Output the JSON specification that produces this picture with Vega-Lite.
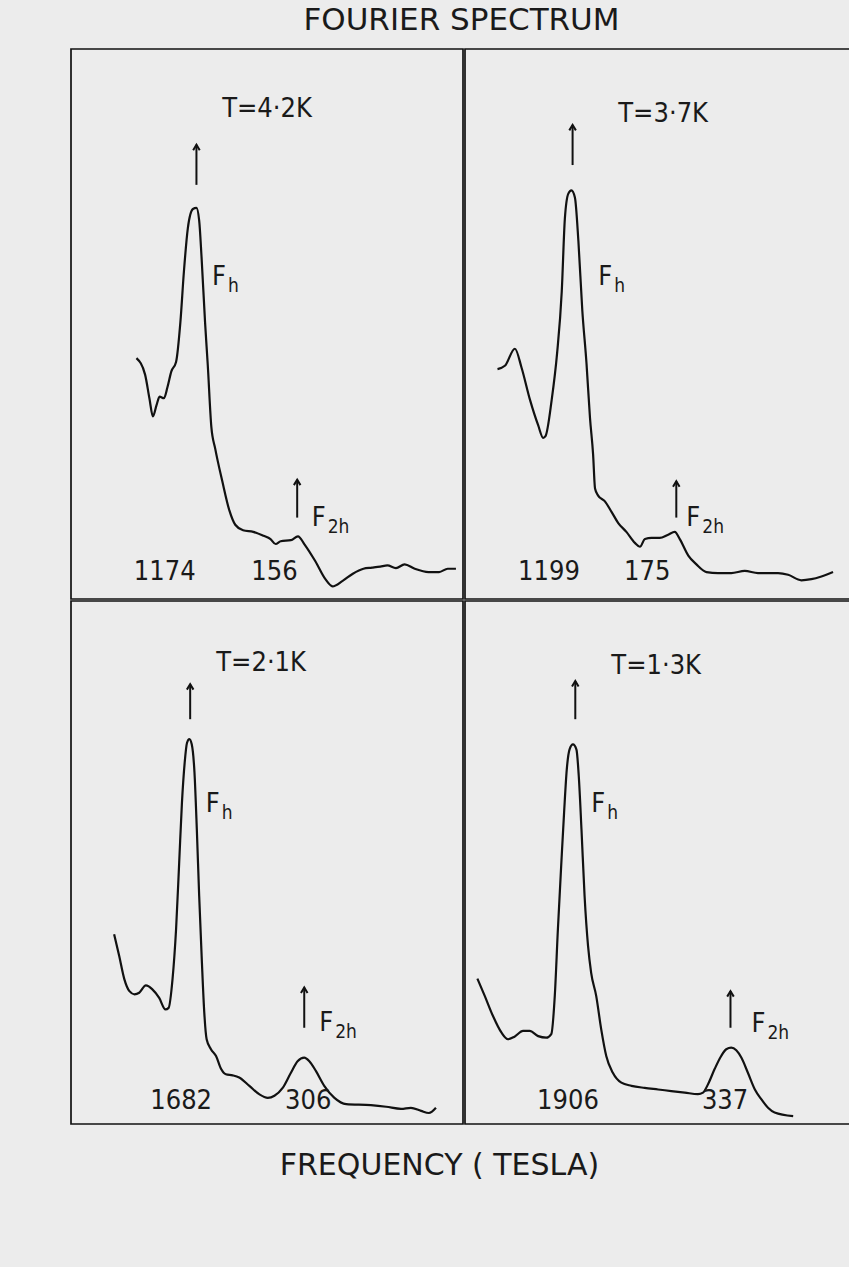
{
  "$schema": "https://vega.github.io/schema/vega-lite/v6.json",
  "background": "#ececec",
  "padding": {"top": 5, "left": 70, "right": 0, "bottom": 92},
  "title": {"text": "FOURIER SPECTRUM", "fontSize": 31, "font": "DejaVu Sans", "fontWeight": "normal", "color": "#1a1a1a", "anchor": "middle", "offset": 11},
  "config": {
    "view": {"stroke": "#111111", "strokeWidth": 1.7},
    "text": {"font": "DejaVu Sans Condensed, DejaVu Sans", "color": "#1a1a1a"}
  },
  "datasets": {
    "curves": [
      {"p":"A","x":16.7,"y":43.8},{"p":"A","x":18.9,"y":40.8},{"p":"A","x":20.0,"y":36.5},{"p":"A","x":20.9,"y":33.2},{"p":"A","x":21.8,"y":35.2},{"p":"A","x":22.6,"y":36.8},{"p":"A","x":23.7,"y":36.5},{"p":"A","x":24.6,"y":38.5},{"p":"A","x":25.6,"y":41.4},{"p":"A","x":26.8,"y":43.1},{"p":"A","x":27.9,"y":50.3},{"p":"A","x":28.8,"y":59.5},{"p":"A","x":29.8,"y":67.4},{"p":"A","x":31.1,"y":70.9},{"p":"A","x":32.0,"y":71.1},{"p":"A","x":32.7,"y":68.8},{"p":"A","x":33.3,"y":62.2},{"p":"A","x":34.2,"y":50.3},{"p":"A","x":34.9,"y":42.4},{"p":"A","x":35.8,"y":31.3},{"p":"A","x":36.8,"y":27.3},{"p":"A","x":38.6,"y":21.4},{"p":"A","x":40.4,"y":16.1},{"p":"A","x":41.9,"y":13.5},{"p":"A","x":43.9,"y":12.5},{"p":"A","x":46.5,"y":12.2},{"p":"A","x":49.1,"y":11.5},{"p":"A","x":50.9,"y":10.9},{"p":"A","x":52.2,"y":10.0},{"p":"A","x":53.5,"y":10.5},{"p":"A","x":56.1,"y":10.7},{"p":"A","x":57.9,"y":11.4},{"p":"A","x":59.6,"y":9.9},{"p":"A","x":62.3,"y":6.9},{"p":"A","x":64.9,"y":3.6},{"p":"A","x":66.7,"y":2.3},{"p":"A","x":69.3,"y":3.3},{"p":"A","x":71.9,"y":4.6},{"p":"A","x":74.6,"y":5.5},{"p":"A","x":76.8,"y":5.7},{"p":"A","x":78.9,"y":5.9},{"p":"A","x":80.7,"y":6.1},{"p":"A","x":82.9,"y":5.6},{"p":"A","x":85.1,"y":6.3},{"p":"A","x":87.7,"y":5.5},{"p":"A","x":91.2,"y":4.9},{"p":"A","x":93.9,"y":4.9},{"p":"A","x":96.1,"y":5.5},{"p":"A","x":98.2,"y":5.5},
      {"p":"B","x":8.4,"y":41.8},{"p":"B","x":10.3,"y":42.4},{"p":"B","x":12.9,"y":45.5},{"p":"B","x":14.6,"y":42.1},{"p":"B","x":16.8,"y":36.2},{"p":"B","x":18.9,"y":31.6},{"p":"B","x":20.2,"y":29.3},{"p":"B","x":20.8,"y":29.6},{"p":"B","x":22.4,"y":36.2},{"p":"B","x":23.8,"y":44.7},{"p":"B","x":25.0,"y":55.9},{"p":"B","x":25.8,"y":69.1},{"p":"B","x":26.7,"y":73.7},{"p":"B","x":27.5,"y":74.3},{"p":"B","x":28.4,"y":73.0},{"p":"B","x":29.3,"y":65.1},{"p":"B","x":30.3,"y":52.6},{"p":"B","x":31.4,"y":42.8},{"p":"B","x":32.3,"y":32.9},{"p":"B","x":33.1,"y":26.3},{"p":"B","x":33.6,"y":20.1},{"p":"B","x":34.4,"y":18.8},{"p":"B","x":36.1,"y":17.8},{"p":"B","x":37.9,"y":15.8},{"p":"B","x":39.6,"y":13.8},{"p":"B","x":41.7,"y":12.2},{"p":"B","x":43.9,"y":10.2},{"p":"B","x":45.2,"y":9.5},{"p":"B","x":46.5,"y":10.9},{"p":"B","x":48.2,"y":11.1},{"p":"B","x":50.3,"y":11.1},{"p":"B","x":52.5,"y":11.7},{"p":"B","x":54.2,"y":12.2},{"p":"B","x":55.5,"y":10.9},{"p":"B","x":57.7,"y":7.9},{"p":"B","x":59.8,"y":6.3},{"p":"B","x":62.4,"y":4.9},{"p":"B","x":65.4,"y":4.7},{"p":"B","x":68.8,"y":4.7},{"p":"B","x":72.3,"y":5.1},{"p":"B","x":75.7,"y":4.7},{"p":"B","x":80.9,"y":4.7},{"p":"B","x":83.5,"y":4.4},{"p":"B","x":86.9,"y":3.4},{"p":"B","x":89.5,"y":3.6},{"p":"B","x":92.1,"y":4.1},{"p":"B","x":95.1,"y":4.9},
      {"p":"C","x":11.0,"y":36.3},{"p":"C","x":12.3,"y":32.1},{"p":"C","x":13.6,"y":27.7},{"p":"C","x":14.9,"y":25.4},{"p":"C","x":16.2,"y":24.8},{"p":"C","x":17.4,"y":25.1},{"p":"C","x":19.1,"y":26.5},{"p":"C","x":20.7,"y":25.8},{"p":"C","x":22.5,"y":24.1},{"p":"C","x":24.1,"y":21.9},{"p":"C","x":24.9,"y":22.2},{"p":"C","x":25.9,"y":27.7},{"p":"C","x":26.8,"y":37.2},{"p":"C","x":27.6,"y":50.0},{"p":"C","x":28.3,"y":61.4},{"p":"C","x":29.0,"y":69.1},{"p":"C","x":29.6,"y":72.9},{"p":"C","x":30.2,"y":73.6},{"p":"C","x":30.8,"y":72.6},{"p":"C","x":31.5,"y":67.2},{"p":"C","x":32.1,"y":56.3},{"p":"C","x":32.7,"y":43.6},{"p":"C","x":33.4,"y":30.8},{"p":"C","x":34.0,"y":21.3},{"p":"C","x":34.6,"y":16.2},{"p":"C","x":35.7,"y":14.3},{"p":"C","x":37.0,"y":13.0},{"p":"C","x":38.3,"y":10.5},{"p":"C","x":39.5,"y":9.5},{"p":"C","x":41.2,"y":9.3},{"p":"C","x":42.9,"y":8.9},{"p":"C","x":45.5,"y":7.3},{"p":"C","x":48.0,"y":5.7},{"p":"C","x":50.2,"y":5.0},{"p":"C","x":51.9,"y":5.4},{"p":"C","x":54.0,"y":6.9},{"p":"C","x":56.1,"y":9.8},{"p":"C","x":57.8,"y":12.0},{"p":"C","x":59.5,"y":12.7},{"p":"C","x":60.8,"y":12.0},{"p":"C","x":62.5,"y":10.1},{"p":"C","x":64.6,"y":7.3},{"p":"C","x":67.2,"y":5.0},{"p":"C","x":70.2,"y":3.8},{"p":"C","x":76.5,"y":3.6},{"p":"C","x":80.4,"y":3.3},{"p":"C","x":84.2,"y":2.9},{"p":"C","x":86.7,"y":3.1},{"p":"C","x":89.3,"y":2.5},{"p":"C","x":91.3,"y":2.1},{"p":"C","x":93.1,"y":3.1},
      {"p":"D","x":3.2,"y":27.8},{"p":"D","x":5.1,"y":24.5},{"p":"D","x":7.2,"y":20.7},{"p":"D","x":9.4,"y":17.5},{"p":"D","x":11.1,"y":16.2},{"p":"D","x":12.8,"y":16.7},{"p":"D","x":15.0,"y":17.8},{"p":"D","x":16.7,"y":17.8},{"p":"D","x":18.9,"y":16.8},{"p":"D","x":21.0,"y":16.5},{"p":"D","x":22.3,"y":17.2},{"p":"D","x":23.2,"y":24.5},{"p":"D","x":24.0,"y":37.2},{"p":"D","x":24.9,"y":50.0},{"p":"D","x":25.6,"y":59.5},{"p":"D","x":26.3,"y":67.8},{"p":"D","x":27.0,"y":71.6},{"p":"D","x":27.9,"y":72.6},{"p":"D","x":28.8,"y":71.6},{"p":"D","x":29.4,"y":66.5},{"p":"D","x":30.1,"y":56.3},{"p":"D","x":30.9,"y":43.6},{"p":"D","x":31.8,"y":34.0},{"p":"D","x":32.6,"y":28.9},{"p":"D","x":33.9,"y":24.5},{"p":"D","x":35.2,"y":18.1},{"p":"D","x":36.5,"y":13.0},{"p":"D","x":38.2,"y":9.8},{"p":"D","x":40.4,"y":7.9},{"p":"D","x":43.0,"y":7.3},{"p":"D","x":46.4,"y":6.9},{"p":"D","x":49.9,"y":6.6},{"p":"D","x":53.3,"y":6.3},{"p":"D","x":56.8,"y":6.0},{"p":"D","x":60.2,"y":5.7},{"p":"D","x":61.5,"y":6.0},{"p":"D","x":62.8,"y":7.6},{"p":"D","x":64.5,"y":10.5},{"p":"D","x":66.2,"y":13.0},{"p":"D","x":67.5,"y":14.3},{"p":"D","x":68.8,"y":14.6},{"p":"D","x":70.1,"y":14.1},{"p":"D","x":71.4,"y":12.7},{"p":"D","x":73.1,"y":9.8},{"p":"D","x":74.9,"y":6.6},{"p":"D","x":76.6,"y":4.7},{"p":"D","x":78.3,"y":3.1},{"p":"D","x":80.0,"y":2.2},{"p":"D","x":84.8,"y":1.5}
    ],
    "arrows": [
      {"p":"A","x":32.0,"y":75.3,"y2":82.6},{"p":"A","x":57.7,"y":14.8,"y2":21.7},
      {"p":"B","x":27.8,"y":78.9,"y2":86.2},{"p":"B","x":54.6,"y":14.8,"y2":21.4},
      {"p":"C","x":30.4,"y":77.4,"y2":84.1},{"p":"C","x":59.5,"y":18.4,"y2":26.1},
      {"p":"D","x":28.5,"y":77.4,"y2":84.7},{"p":"D","x":68.6,"y":18.4,"y2":25.4}
    ],
    "texts": [
      {"p":"A","x":50.0,"y":89.1,"t":"T=4·2K"},{"p":"A","x":23.9,"y":4.9,"t":"1174"},{"p":"A","x":51.9,"y":4.9,"t":"156"},
      {"p":"B","x":51.2,"y":88.2,"t":"T=3·7K"},{"p":"B","x":21.7,"y":4.9,"t":"1199"},{"p":"B","x":47.1,"y":4.9,"t":"175"},
      {"p":"C","x":48.5,"y":88.2,"t":"T=2·1K"},{"p":"C","x":28.1,"y":4.4,"t":"1682"},{"p":"C","x":60.5,"y":4.4,"t":"306"},
      {"p":"D","x":49.4,"y":87.6,"t":"T=1·3K"},{"p":"D","x":26.6,"y":4.4,"t":"1906"},{"p":"D","x":67.2,"y":4.4,"t":"337"}
    ],
    "flabels": [
      {"p":"A","x":36.0,"y":58.6,"t":"F","s":"h"},{"p":"A","x":61.4,"y":14.7,"t":"F","s":"2h"},
      {"p":"B","x":34.4,"y":58.6,"t":"F","s":"h"},{"p":"B","x":57.2,"y":14.8,"t":"F","s":"2h"},
      {"p":"C","x":34.4,"y":61.2,"t":"F","s":"h"},{"p":"C","x":63.3,"y":19.4,"t":"F","s":"2h"},
      {"p":"D","x":32.6,"y":61.2,"t":"F","s":"h"},{"p":"D","x":74.0,"y":19.1,"t":"F","s":"2h"}
    ]
  },
  "spacing": 0,
  "vconcat": [
    {
      "spacing": 0,
      "hconcat": [
        {
          "width": 392, "height": 550,
          "layer": [
            {"data":{"name":"curves"},"transform":[{"filter":"datum.p==='A'"}],"mark":{"type":"line","interpolate":"monotone","color":"#111111","strokeWidth":2.2},"encoding":{"x":{"field":"x","type":"quantitative","scale":{"domain":[0,100]},"axis":null},"y":{"field":"y","type":"quantitative","scale":{"domain":[0,100]},"axis":null}}},
            {"data":{"name":"arrows"},"transform":[{"filter":"datum.p==='A'"}],"mark":{"type":"rule","color":"#111111","strokeWidth":2},"encoding":{"x":{"field":"x","type":"quantitative","scale":{"domain":[0,100]},"axis":null},"y":{"field":"y","type":"quantitative","scale":{"domain":[0,100]},"axis":null},"y2":{"field":"y2"}}},
            {"data":{"name":"arrows"},"transform":[{"filter":"datum.p==='A'"}],"mark":{"type":"point","shape":"M-0.6,1L0,0L0.6,1","size":120,"filled":false,"color":"#111111","strokeWidth":2,"opacity":1},"encoding":{"x":{"field":"x","type":"quantitative","scale":{"domain":[0,100]},"axis":null},"y":{"field":"y2","type":"quantitative","scale":{"domain":[0,100]},"axis":null}}},
            {"data":{"name":"texts"},"transform":[{"filter":"datum.p==='A'"}],"mark":{"type":"text","fontSize":27,"align":"center","baseline":"middle"},"encoding":{"x":{"field":"x","type":"quantitative","scale":{"domain":[0,100]},"axis":null},"y":{"field":"y","type":"quantitative","scale":{"domain":[0,100]},"axis":null},"text":{"field":"t"}}},
            {"data":{"name":"flabels"},"transform":[{"filter":"datum.p==='A'"}],"mark":{"type":"text","fontSize":27,"align":"left","baseline":"middle"},"encoding":{"x":{"field":"x","type":"quantitative","scale":{"domain":[0,100]},"axis":null},"y":{"field":"y","type":"quantitative","scale":{"domain":[0,100]},"axis":null},"text":{"field":"t"}}},
            {"data":{"name":"flabels"},"transform":[{"filter":"datum.p==='A'"}],"mark":{"type":"text","fontSize":19,"align":"left","baseline":"middle","dx":16,"dy":9},"encoding":{"x":{"field":"x","type":"quantitative","scale":{"domain":[0,100]},"axis":null},"y":{"field":"y","type":"quantitative","scale":{"domain":[0,100]},"axis":null},"text":{"field":"s"}}}
          ]
        },
        {
          "width": 387, "height": 550,
          "layer": [
            {"data":{"name":"curves"},"transform":[{"filter":"datum.p==='B'"}],"mark":{"type":"line","interpolate":"monotone","color":"#111111","strokeWidth":2.2},"encoding":{"x":{"field":"x","type":"quantitative","scale":{"domain":[0,100]},"axis":null},"y":{"field":"y","type":"quantitative","scale":{"domain":[0,100]},"axis":null}}},
            {"data":{"name":"arrows"},"transform":[{"filter":"datum.p==='B'"}],"mark":{"type":"rule","color":"#111111","strokeWidth":2},"encoding":{"x":{"field":"x","type":"quantitative","scale":{"domain":[0,100]},"axis":null},"y":{"field":"y","type":"quantitative","scale":{"domain":[0,100]},"axis":null},"y2":{"field":"y2"}}},
            {"data":{"name":"arrows"},"transform":[{"filter":"datum.p==='B'"}],"mark":{"type":"point","shape":"M-0.6,1L0,0L0.6,1","size":120,"filled":false,"color":"#111111","strokeWidth":2,"opacity":1},"encoding":{"x":{"field":"x","type":"quantitative","scale":{"domain":[0,100]},"axis":null},"y":{"field":"y2","type":"quantitative","scale":{"domain":[0,100]},"axis":null}}},
            {"data":{"name":"texts"},"transform":[{"filter":"datum.p==='B'"}],"mark":{"type":"text","fontSize":27,"align":"center","baseline":"middle"},"encoding":{"x":{"field":"x","type":"quantitative","scale":{"domain":[0,100]},"axis":null},"y":{"field":"y","type":"quantitative","scale":{"domain":[0,100]},"axis":null},"text":{"field":"t"}}},
            {"data":{"name":"flabels"},"transform":[{"filter":"datum.p==='B'"}],"mark":{"type":"text","fontSize":27,"align":"left","baseline":"middle"},"encoding":{"x":{"field":"x","type":"quantitative","scale":{"domain":[0,100]},"axis":null},"y":{"field":"y","type":"quantitative","scale":{"domain":[0,100]},"axis":null},"text":{"field":"t"}}},
            {"data":{"name":"flabels"},"transform":[{"filter":"datum.p==='B'"}],"mark":{"type":"text","fontSize":19,"align":"left","baseline":"middle","dx":16,"dy":9},"encoding":{"x":{"field":"x","type":"quantitative","scale":{"domain":[0,100]},"axis":null},"y":{"field":"y","type":"quantitative","scale":{"domain":[0,100]},"axis":null},"text":{"field":"s"}}}
          ]
        }
      ]
    },
    {
      "spacing": 0,
      "title": {"text": "FREQUENCY ( TESLA)", "orient": "bottom", "fontSize": 30, "font": "DejaVu Sans", "fontWeight": "normal", "color": "#1a1a1a", "anchor": "middle", "offset": 26, "dx": -22},
      "hconcat": [
        {
          "width": 392, "height": 523,
          "layer": [
            {"data":{"name":"curves"},"transform":[{"filter":"datum.p==='C'"}],"mark":{"type":"line","interpolate":"monotone","color":"#111111","strokeWidth":2.2},"encoding":{"x":{"field":"x","type":"quantitative","scale":{"domain":[0,100]},"axis":null},"y":{"field":"y","type":"quantitative","scale":{"domain":[0,100]},"axis":null}}},
            {"data":{"name":"arrows"},"transform":[{"filter":"datum.p==='C'"}],"mark":{"type":"rule","color":"#111111","strokeWidth":2},"encoding":{"x":{"field":"x","type":"quantitative","scale":{"domain":[0,100]},"axis":null},"y":{"field":"y","type":"quantitative","scale":{"domain":[0,100]},"axis":null},"y2":{"field":"y2"}}},
            {"data":{"name":"arrows"},"transform":[{"filter":"datum.p==='C'"}],"mark":{"type":"point","shape":"M-0.6,1L0,0L0.6,1","size":120,"filled":false,"color":"#111111","strokeWidth":2,"opacity":1},"encoding":{"x":{"field":"x","type":"quantitative","scale":{"domain":[0,100]},"axis":null},"y":{"field":"y2","type":"quantitative","scale":{"domain":[0,100]},"axis":null}}},
            {"data":{"name":"texts"},"transform":[{"filter":"datum.p==='C'"}],"mark":{"type":"text","fontSize":27,"align":"center","baseline":"middle"},"encoding":{"x":{"field":"x","type":"quantitative","scale":{"domain":[0,100]},"axis":null},"y":{"field":"y","type":"quantitative","scale":{"domain":[0,100]},"axis":null},"text":{"field":"t"}}},
            {"data":{"name":"flabels"},"transform":[{"filter":"datum.p==='C'"}],"mark":{"type":"text","fontSize":27,"align":"left","baseline":"middle"},"encoding":{"x":{"field":"x","type":"quantitative","scale":{"domain":[0,100]},"axis":null},"y":{"field":"y","type":"quantitative","scale":{"domain":[0,100]},"axis":null},"text":{"field":"t"}}},
            {"data":{"name":"flabels"},"transform":[{"filter":"datum.p==='C'"}],"mark":{"type":"text","fontSize":19,"align":"left","baseline":"middle","dx":16,"dy":9},"encoding":{"x":{"field":"x","type":"quantitative","scale":{"domain":[0,100]},"axis":null},"y":{"field":"y","type":"quantitative","scale":{"domain":[0,100]},"axis":null},"text":{"field":"s"}}}
          ]
        },
        {
          "width": 387, "height": 523,
          "layer": [
            {"data":{"name":"curves"},"transform":[{"filter":"datum.p==='D'"}],"mark":{"type":"line","interpolate":"monotone","color":"#111111","strokeWidth":2.2},"encoding":{"x":{"field":"x","type":"quantitative","scale":{"domain":[0,100]},"axis":null},"y":{"field":"y","type":"quantitative","scale":{"domain":[0,100]},"axis":null}}},
            {"data":{"name":"arrows"},"transform":[{"filter":"datum.p==='D'"}],"mark":{"type":"rule","color":"#111111","strokeWidth":2},"encoding":{"x":{"field":"x","type":"quantitative","scale":{"domain":[0,100]},"axis":null},"y":{"field":"y","type":"quantitative","scale":{"domain":[0,100]},"axis":null},"y2":{"field":"y2"}}},
            {"data":{"name":"arrows"},"transform":[{"filter":"datum.p==='D'"}],"mark":{"type":"point","shape":"M-0.6,1L0,0L0.6,1","size":120,"filled":false,"color":"#111111","strokeWidth":2,"opacity":1},"encoding":{"x":{"field":"x","type":"quantitative","scale":{"domain":[0,100]},"axis":null},"y":{"field":"y2","type":"quantitative","scale":{"domain":[0,100]},"axis":null}}},
            {"data":{"name":"texts"},"transform":[{"filter":"datum.p==='D'"}],"mark":{"type":"text","fontSize":27,"align":"center","baseline":"middle"},"encoding":{"x":{"field":"x","type":"quantitative","scale":{"domain":[0,100]},"axis":null},"y":{"field":"y","type":"quantitative","scale":{"domain":[0,100]},"axis":null},"text":{"field":"t"}}},
            {"data":{"name":"flabels"},"transform":[{"filter":"datum.p==='D'"}],"mark":{"type":"text","fontSize":27,"align":"left","baseline":"middle"},"encoding":{"x":{"field":"x","type":"quantitative","scale":{"domain":[0,100]},"axis":null},"y":{"field":"y","type":"quantitative","scale":{"domain":[0,100]},"axis":null},"text":{"field":"t"}}},
            {"data":{"name":"flabels"},"transform":[{"filter":"datum.p==='D'"}],"mark":{"type":"text","fontSize":19,"align":"left","baseline":"middle","dx":16,"dy":9},"encoding":{"x":{"field":"x","type":"quantitative","scale":{"domain":[0,100]},"axis":null},"y":{"field":"y","type":"quantitative","scale":{"domain":[0,100]},"axis":null},"text":{"field":"s"}}}
          ]
        }
      ]
    }
  ]
}
